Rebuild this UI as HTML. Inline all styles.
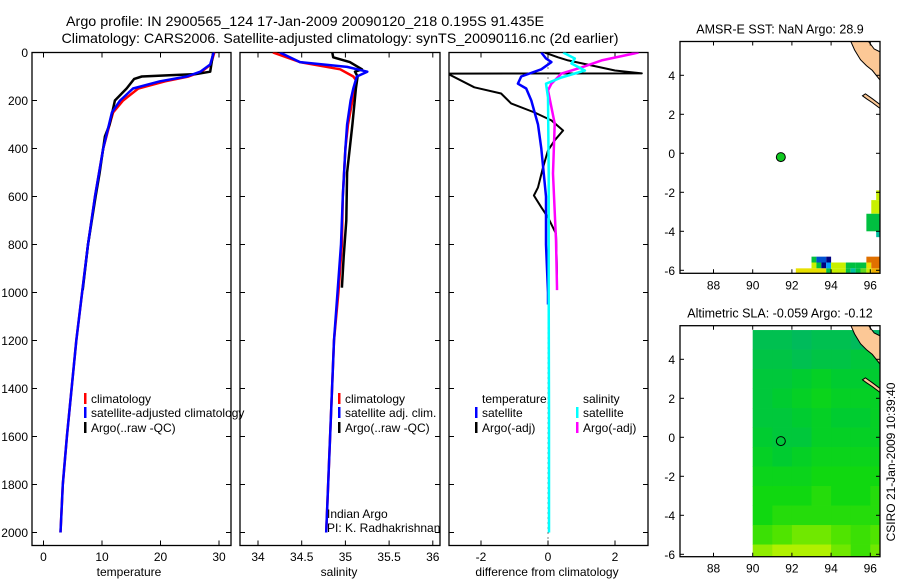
<!DOCTYPE html>
<html><head><meta charset="utf-8"><style>
html,body{margin:0;padding:0;background:#fff;}
svg{display:block;font-family:"Liberation Sans",sans-serif;}
text{fill:#000;}
</style></head><body>
<svg id="fig" width="900" height="580" viewBox="0 0 900 580" xmlns="http://www.w3.org/2000/svg">
<text x="305" y="26" font-size="14" text-anchor="middle" textLength="478" lengthAdjust="spacingAndGlyphs">Argo profile: IN 2900565_124 17-Jan-2009 20090120_218 0.195S 91.435E</text>
<text x="340" y="43" font-size="14" text-anchor="middle" textLength="557" lengthAdjust="spacingAndGlyphs">Climatology: CARS2006. Satellite-adjusted climatology: synTS_20090116.nc (2d earlier)</text>
<g id="layer"></g>
</svg>
<script>
// ---------- Data ----------
const tempDepth = [0,50,80,100,120,150,200,250,300,400,600,800,1000,1200,1400,1600,1800,2000];
const tempClim  = [29.2,28.6,27.0,24.8,20.8,16.2,13.6,11.9,11.3,10.2,8.8,7.6,6.6,5.6,4.8,4.0,3.3,2.9];
const tempSat   = [29.1,28.5,26.8,24.5,19.9,15.3,13.1,11.7,11.2,10.2,8.8,7.6,6.6,5.6,4.8,4.0,3.3,2.9];
const argoTDepth = [0,80,90,95,100,110,150,200,300,350,500,600,800,990];
const argoTemp   = [29.0,28.5,26.0,21.5,16.8,15.5,14.2,12.2,11.3,10.5,9.6,8.9,7.6,6.7];

const salDepth = [0,40,70,100,120,200,300,400,600,800,1000,1200,2000];
const salClim  = [34.17,34.48,34.94,35.09,35.13,35.08,35.03,35.00,34.97,34.96,34.92,34.87,34.78];
const salSatDepth = [0,40,60,80,100,150,200,300,400,600,800,1000,1200,2000];
const salSat      = [34.25,34.48,35.02,35.25,35.13,35.09,35.06,35.02,35.0,34.97,34.95,34.91,34.87,34.78];
const argoSDepth = [0,20,40,70,80,100,150,300,500,700,850,980];
const argoSal    = [34.85,34.86,35.05,35.19,35.11,35.14,35.12,35.08,35.02,35.01,34.98,34.96];

const dTSatDepth = [0,25,40,70,100,130,150,200,300,400,600,800,1000,1050];
const dTSat      = [-0.2,-0.06,0.1,-0.2,-0.8,-0.9,-0.65,-0.5,-0.3,-0.2,-0.06,-0.06,0,0];
const dTArgoDepth = [0,20,33,75,87,88,145,171,212,250,283,325,366,408,479,562,596,645,687,755,920,950];
const dTArgo      = [-0.1,0.3,0.6,2.0,2.8,-3.0,-2.2,-1.4,-1.1,-0.4,0.1,0.45,0.2,0,-0.15,-0.3,-0.42,-0.2,0,0.24,0.27,0.27];
const dSSatDepth = [0,25,46,75,104,130,187,500,1000,1500,2000];
const dSSat      = [0.45,0.8,0.7,1.1,0.4,-0.06,0,0.02,0.02,0.03,0.03];
const dSArgoDepth = [0,33,62,88,130,158,296,504,783,979,990];
const dSArgo      = [2.7,1.6,1.0,0.4,0.1,0,0.2,0.15,0.24,0.27,0.27];

const depthTicks = [0,200,400,600,800,1000,1200,1400,1600,1800,2000];
const tempTicks = [0,10,20,30];
const salTicks = [34,34.5,35,35.5,36];
const salTickLabels = ["34","34.5","35","35.5","36"];
const diffTicks = [-2,0,2];
const lonTicks = [88,90,92,94,96];
const latTicks = [4,2,0,-2,-4,-6];

// SST cells: [lon0, lon1, lat0, lat1, sst]
const sstCells = [
 [96.3,96.5,-2.4,-1.9,29.6],[96.05,96.5,-3.1,-2.4,29.6],[95.8,96.5,-4.0,-3.1,29.0],[96.3,96.5,-4.3,-4.0,28.7],
 [93.0,93.25,-5.6,-5.3,29.0],[93.25,93.75,-5.6,-5.3,28.2],[93.75,94.0,-5.6,-5.3,27.8],[95.8,96.5,-5.6,-5.3,30.6],
 [93.0,93.25,-5.9,-5.6,29.6],[93.25,93.5,-5.9,-5.6,29.0],[93.5,93.75,-5.9,-5.6,27.8],[93.75,94.0,-5.9,-5.6,28.4],
 [94.0,94.75,-5.9,-5.6,29.6],[94.75,95.25,-5.9,-5.6,29.0],[95.25,95.8,-5.9,-5.6,29.0],[95.8,96.05,-5.9,-5.6,30.0],[96.05,96.5,-5.9,-5.6,30.6],
 [92.2,93.0,-6.15,-5.9,30.0],[93.0,93.75,-6.15,-5.9,30.0],[93.75,94.0,-6.15,-5.9,29.0],[94.0,94.75,-6.15,-5.9,29.6],
 [94.75,95.0,-6.15,-5.9,29.0],[95.0,95.25,-6.15,-5.9,28.7],[95.25,95.5,-6.15,-5.9,29.0],[95.5,95.8,-6.15,-5.9,29.4],[95.8,96.05,-6.15,-5.9,29.6],[96.05,96.5,-6.15,-5.9,30.3]
];
// SLA grid (1 degree cells) lat centres 5..-6, lon centres 90.5..96.5
const slaLats = [5,4,3,2,1,0,-1,-2,-3,-4,-5,-6];
const slaLons = [90.5,91.5,92.5,93.5,94.5,95.5,96.5];
const slaRow5  = [-0.09,-0.09,-0.10,-0.09,-0.09,-0.10,-0.11];
const slaRow4  = [-0.08,-0.08,-0.09,-0.08,-0.08,-0.07,-0.07];
const slaRow3  = [-0.07,-0.07,-0.06,-0.05,-0.06,-0.06,-0.06];
const slaRow2  = [-0.07,-0.06,-0.05,-0.04,-0.05,-0.05,-0.05];
const slaRow1  = [-0.07,-0.07,-0.06,-0.05,-0.06,-0.06,-0.05];
const slaRow0  = [-0.06,-0.07,-0.07,-0.05,-0.05,-0.05,-0.05];
const slaRowM1 = [-0.05,-0.06,-0.05,-0.04,-0.04,-0.04,-0.04];
const slaRowM2 = [-0.04,-0.04,-0.04,-0.03,-0.03,-0.03,-0.03];
const slaRowM3 = [-0.03,-0.03,-0.03,-0.02,-0.03,-0.03,-0.02];
const slaRowM4 = [-0.03,-0.02,-0.02,-0.02,-0.02,-0.02,-0.02];
const slaRowM5 = [-0.01,0.00,0.01,0.01,0.00,-0.01,0.00];
const slaRowM6 = [0.02,0.03,0.035,0.03,0.01,-0.01,0.01];
const argoLon = 91.435, argoLat = -0.195;

// ---------- helpers ----------
const NS="http://www.w3.org/2000/svg";
const layer=document.getElementById('layer');
function mk(tag,attrs,parent){const e=document.createElementNS(NS,tag);for(const k in attrs)e.setAttribute(k,attrs[k]);(parent||layer).appendChild(e);return e;}
function lin(d0,d1,p0,p1){return v=>p0+(v-d0)*(p1-p0)/(d1-d0);}

const PT=52.5, PB=545.5;
const yD = lin(0,2000,52.5,532.5);
const panels=[
 {name:'temperature',x0:32,x1:231,sx:lin(0,10,43.5,102),ticks:tempTicks,labels:tempTicks.map(String),xl:'temperature',xlx:129},
 {name:'salinity',x0:240,x1:440,sx:lin(34,35,258,345.4),ticks:salTicks,labels:salTickLabels,xl:'salinity',xlx:339},
 {name:'difference',x0:449,x1:648,sx:lin(0,1,548,581.5),ticks:diffTicks,labels:diffTicks.map(String),xl:'difference from climatology',xlx:547}
];
panels.forEach((p,i)=>{
 const g=mk('g',{});
 
 
 const cp=mk('clipPath',{id:'cp'+i},g);mk('rect',{x:p.x0,y:PT,width:p.x1-p.x0,height:PB-PT},cp);
 const fr=mk('rect',{x:p.x0,y:PT,width:p.x1-p.x0,height:PB-PT,fill:'none',stroke:'#000','stroke-width':1.3},g);
 
 
 p.ticks.forEach((t,j)=>{const x=p.sx(t);
  mk('line',{x1:x,x2:x,y1:PB,y2:PB-5,stroke:'#000'},g);mk('line',{x1:x,x2:x,y1:PT,y2:PT+5,stroke:'#000'},g);
  const tl=mk('text',{x:x,y:561,'font-size':12,'text-anchor':'middle'},g);tl.textContent=p.labels[j];
  
  
 });
 depthTicks.forEach(t=>{const y=yD(t);
  mk('line',{x1:p.x0,x2:p.x0+5,y1:y,y2:y,stroke:'#000'},g);mk('line',{x1:p.x1,x2:p.x1-5,y1:y,y2:y,stroke:'#000'},g);
  if(i===0){const tl=mk('text',{x:28,y:y+4.5,'font-size':12,'text-anchor':'end'},g);tl.textContent=String(t);
   
   }
 });
 const xl=mk('text',{x:p.xlx,y:576,'font-size':12,'text-anchor':'middle'},g);xl.textContent=p.xl;
 
 
 p.g=mk('g',{'clip-path':'url(#cp'+i+')'},g);
});
function line(p,vals,depths,color,w,name){
 const pts=vals.map((v,k)=>p.sx(v).toFixed(1)+','+yD(depths[k]).toFixed(1)).join(' ');
 const e=mk('polyline',{points:pts,fill:'none',stroke:color,'stroke-width':w,'stroke-linejoin':'round'},p.g);
 
 
}
line(panels[0],tempClim,tempDepth,'#f00',2.5,'temp-climatology-line');
line(panels[0],argoTemp,argoTDepth,'#000',2.5,'temp-argo-line');
line(panels[0],tempSat,tempDepth,'#00f',2.5,'temp-satellite-line');
line(panels[1],salClim,salDepth,'#f00',2.5,'sal-climatology-line');
line(panels[1],argoSal,argoSDepth,'#000',2.5,'sal-argo-line');
line(panels[1],salSat,salSatDepth,'#00f',2.5,'sal-satellite-line');
mk('line',{x1:panels[2].sx(0),x2:panels[2].sx(0),y1:PT,y2:PB,stroke:'#000','stroke-dasharray':'1,4'},panels[2].g);
line(panels[2],dTArgo,dTArgoDepth,'#000',2,'diff-temp-argo-line');
line(panels[2],dSArgo,dSArgoDepth,'#f0f',2.5,'diff-sal-argo-line');
line(panels[2],dTSat,dTSatDepth,'#00f',2.5,'diff-temp-satellite-line');
line(panels[2],dSSat,dSSatDepth,'#0ff',2.5,'diff-sal-satellite-line');

function leg(x,y,color,label,name){
 const g=mk('g',{});
 
 
 if(color)mk('rect',{x:x,y:y-10,width:2.5,height:11,fill:color},g);
 const t=mk('text',{x:x+7,y:y,'font-size':12},g);t.textContent=label;
}
leg(84,403,'#f00','climatology','legend-temp-climatology');
leg(84,417,'#00f','satellite-adjusted climatology','legend-temp-satellite');
leg(84,432,'#000','Argo(..raw -QC)','legend-temp-argo');
leg(338,403,'#f00','climatology','legend-sal-climatology');
leg(338,417,'#00f','satellite adj. clim.','legend-sal-satellite');
leg(338,432,'#000','Argo(..raw -QC)','legend-sal-argo');
leg(475,403,null,'temperature','legend-diff-temp-header');
leg(475,417,'#00f','satellite','legend-diff-temp-satellite');
leg(475,432,'#000','Argo(-adj)','legend-diff-temp-argo');
leg(576,403,null,'salinity','legend-diff-sal-header');
leg(576,417,'#0ff','satellite','legend-diff-sal-satellite');
leg(576,432,'#f0f','Argo(-adj)','legend-diff-sal-argo');
leg(320,518,null,'Indian Argo','credit-indian-argo');
leg(320,532,null,'PI: K. Radhakrishnan','credit-pi');

// ---------- maps ----------
const MX0=680,MX1=880;
const mx=lin(88,96,713.5,870.3);
const LAND1=[[95.0,5.75],[95.2,5.3],[95.5,4.8],[95.8,4.5],[96.1,4.25],[96.5,3.75],[96.5,5.2],[96.2,5.35],[95.9,5.75]];
const LAND2=[[95.6,2.95],[95.8,2.8],[96.1,2.6],[96.5,2.3],[96.5,2.5],[96.1,2.8],[95.75,3.05]];
function sstColor(v){const s=[[27.8,'#000080'],[28.2,'#0050d0'],[28.4,'#00a0ff'],[28.7,'#00c0a0'],[29.0,'#00c040'],[29.4,'#60d820'],[29.6,'#c8f000'],[30.0,'#e8e000'],[30.3,'#f0b000'],[30.6,'#e07000']];
 let c=s[0][1];for(const q of s){if(v>=q[0]-1e-6)c=q[1];}return c;}
function hex(h){return [1,3,5].map(i=>parseInt(h.substr(i,2),16));}
function slaColor(v){const s=[[-0.12,'#00b070'],[-0.09,'#00c050'],[-0.06,'#00cc30'],[-0.03,'#10d810'],[0,'#50e400'],[0.03,'#b0f000']];
 if(v<=s[0][0])return s[0][1];for(let i=1;i<s.length;i++){if(v<=s[i][0]){const f=(v-s[i-1][0])/(s[i][0]-s[i-1][0]);const a=hex(s[i-1][1]),b=hex(s[i][1]);return 'rgb('+a.map((x,k)=>Math.round(x+(b[k]-x)*f)).join(',')+')';}}return s[s.length-1][1];}
const slaRows=[slaRow5,slaRow4,slaRow3,slaRow2,slaRow1,slaRow0,slaRowM1,slaRowM2,slaRowM3,slaRowM4,slaRowM5,slaRowM6];

function drawMap(idx,top,bottom,lat0y,title,kind){
 const my=lin(0,1,lat0y,lat0y-19.5);
 const g=mk('g',{});
 
 
 const cp=mk('clipPath',{id:'mcp'+idx},g);mk('rect',{x:MX0,y:top,width:MX1-MX0,height:bottom-top},cp);
 const inner=mk('g',{'clip-path':'url(#mcp'+idx+')'},g);
 if(kind==='sst'){
  sstCells.forEach(c=>{const r=mk('rect',{x:mx(c[0]),y:my(c[3]),width:mx(c[1])-mx(c[0]),height:my(c[2])-my(c[3]),fill:sstColor(c[4])},inner);
   
   });
 } else {
  slaLats.forEach((la,r)=>slaLons.forEach((lo,c)=>{
   const x0=Math.max(mx(lo-0.5),mx(89.9));
   const cell=mk('rect',{x:x0,y:my(la+0.5),width:mx(lo+0.5)-x0+0.5,height:19.9,fill:slaColor(slaRows[r][c])},inner);
   
   
  }));
 }
 [LAND1,LAND2].forEach((L,k)=>{const pl=mk('polygon',{points:L.map(p=>mx(p[0]).toFixed(1)+','+my(p[1]).toFixed(1)).join(' '),fill:'#fcc896',stroke:'#000','stroke-width':1},inner);
  
  });
 const fill = kind==='sst' ? '#10c820' : slaColor(-0.07);
 const m=mk('circle',{cx:mx(argoLon),cy:my(argoLat),r:4.5,fill:fill,stroke:'#000','stroke-width':1},inner);
 
 
 mk('rect',{x:MX0,y:top,width:MX1-MX0,height:bottom-top,fill:'none',stroke:'#000','stroke-width':1.3},g);
 lonTicks.forEach(t=>{const x=mx(t);mk('line',{x1:x,x2:x,y1:top,y2:top+4,stroke:'#000'},g);mk('line',{x1:x,x2:x,y1:bottom,y2:bottom-4,stroke:'#000'},g);
  const tl=mk('text',{x:x,y:bottom+16,'font-size':12,'text-anchor':'middle'},g);tl.textContent=String(t);
  
  });
 latTicks.forEach(t=>{const y=my(t);mk('line',{x1:MX0,x2:MX0+4,y1:y,y2:y,stroke:'#000'},g);mk('line',{x1:MX1,x2:MX1-4,y1:y,y2:y,stroke:'#000'},g);
  const tl=mk('text',{x:675,y:y+4.5,'font-size':12,'text-anchor':'end'},g);tl.textContent=String(t);
  
  });
 const tt=mk('text',{x:(MX0+MX1)/2,y:top-8,'font-size':12.5,'text-anchor':'middle'},g);tt.textContent=title;
 
 
}
drawMap(0,41.5,273.3,153.3,'AMSR-E SST: NaN Argo: 28.9','sst');
drawMap(1,325.7,556.7,437.3,'Altimetric SLA: -0.059 Argo: -0.12','sla');
const cs=mk('text',{x:0,y:0,'font-size':12,'text-anchor':'middle',transform:'translate(895,462) rotate(-90)'});
cs.textContent='CSIRO 21-Jan-2009 10:39:40';


</script>
</body></html>
